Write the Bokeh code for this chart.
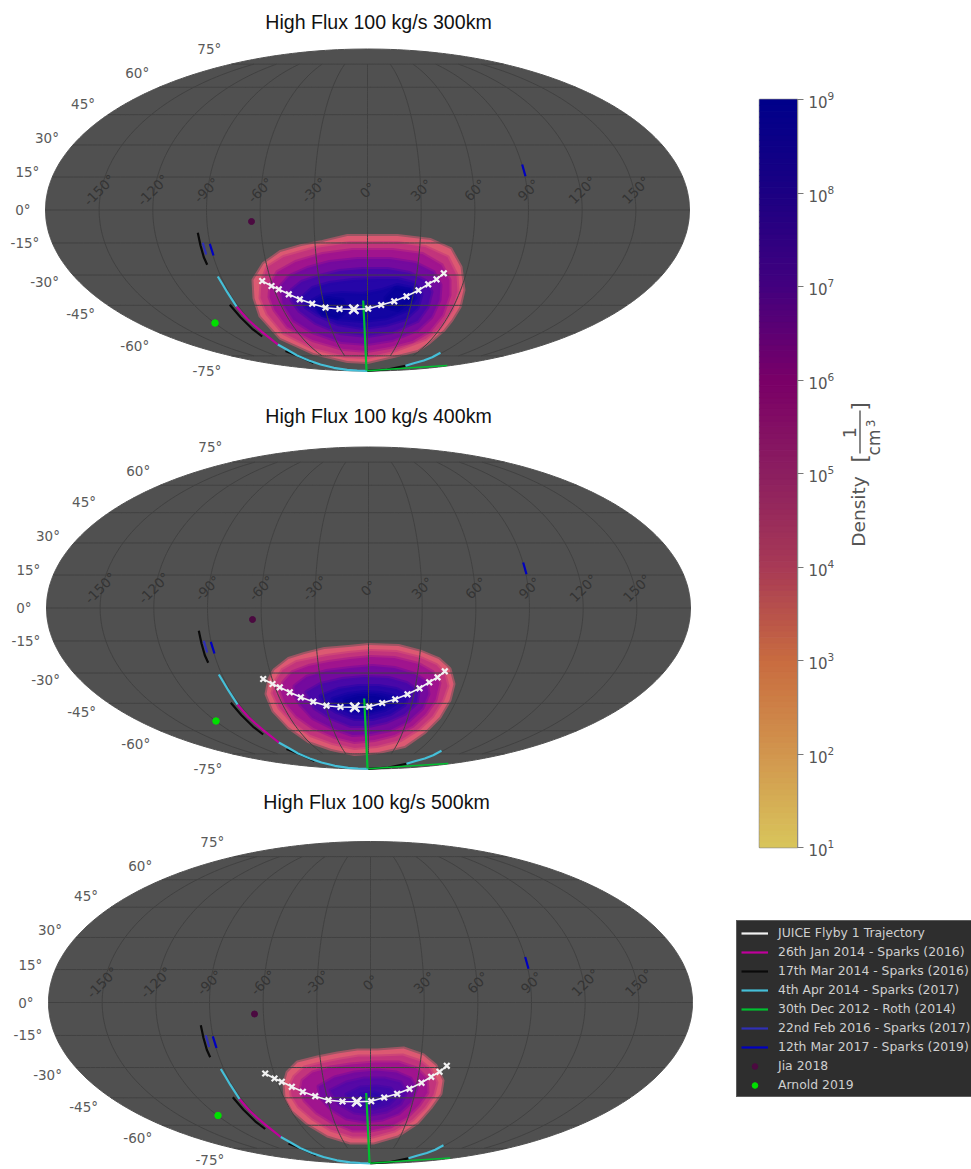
import numpy as np
from bokeh.core.properties import value
from bokeh.embed import file_html
from bokeh.layouts import column, row
from bokeh.models import FixedTicker, Label, Legend, LegendItem, LogTickFormatter, Range1d
from bokeh.plotting import figure
from bokeh.resources import INLINE

# ---------------------------------------------------------------- data
TITLES = ["High Flux 100 kg/s 300km", "High Flux 100 kg/s 400km", "High Flux 100 kg/s 500km"]
LON_TICKS = [-150, -120, -90, -60, -30, 0, 30, 60, 90, 120, 150]
LAT_TICKS = [75, 60, 45, 30, 15, 0, -15, -30, -45, -60, -75]

JUICE_X = [-105.3, -96, -88.7, -78.7, -67.7, -55.3, -42, -28, -13.7, 0.7, 13.7, 26.7, 39, 51, 60.7, 69, 76.3]
JUICE_Y = [-71, -76, -79.3, -84.3, -89.3, -93.7, -97.7, -99, -99.3, -98.7, -95, -91.3, -86.3, -80.3, -74.3, -69.3, -63.3]
CA_X = [-13.7]
CA_Y = [-99.3]

MAG_X = [-131, -125.3, -120.3, -113, -105.3, -97.7, -89.7]
MAG_Y = [-96.5, -103.2, -108.8, -115.5, -122.2, -128.2, -134.5]

BLK_A = ([-169.7, -167, -163.7, -160.3], [-22.8, -35.5, -47.2, -54.8])
BLK_B = ([-137.7, -127, -115.3, -105.3], [-94.8, -107.2, -118.8, -126.5])
BLK_C = ([-82, -67, -54], [-141, -147, -153])
BLK_D = ([-0.3, 19.7, 38], [-160.8, -159.5, -155.8])

CYN_A = ([-149.7, -145.3, -140.3, -135.3, -131], [-66.5, -73.8, -82.2, -89.8, -96.5])
CYN_B = ([-89.7, -80.3, -70.3, -58.7, -47, -33.7, -20.3, -10.3, -0.3],
         [-134.5, -139.8, -145.5, -150.5, -154.5, -157.8, -159.8, -160.5, -160.8])
CYN_C = ([38, 46.3, 56.3, 64.7, 73], [-155.8, -153.2, -150.5, -147.2, -142.8])

GRN_A = ([-4.3, -3, -1], [-90.5, -117, -160.5])
GRN_B = ([-0.3, 39.7, 79.7], [-160.8, -158, -155.5])

BLU_A = ([-164.7, -161.3], [-32.8, -44.5])
NAV_A = ([-157.7, -154], [-33.8, -45.5])
NAV_B = ([154.7, 158], [45.5, 33.8])

JIA = ([-116], [-11.5])
ARNOLD = ([-152.5], [-113])

# Density regions, outermost (lowest density) first, as (x, y) vertices.
P300 = [
    [(-45, -32), (-20, -26), (0, -26), (30, -26), (63, -30), (83, -39), (93, -57), (96, -80), (92, -97), (84, -110),
     (76, -120), (62, -132), (50, -140), (26, -146), (0, -152), (-20, -151), (-54, -143), (-87, -128), (-107, -106),
     (-113, -88), (-114, -70), (-104, -54), (-87, -42), (-66, -36)],
    [(-106, -72), (-100, -57), (-84, -47), (-52, -38), (-18, -33), (30, -33), (58, -37), (80, -47), (89, -65), (90, -82),
     (84, -100), (72, -118), (58, -129), (26, -141), (0, -147), (-22, -146), (-54, -138), (-84, -123), (-100, -104), (-107, -88)],
    [(-97, -74), (-90, -62), (-72, -52), (-45, -44), (-15, -40), (25, -40), (55, -44), (74, -55), (82, -70), (82, -85),
     (75, -105), (62, -121), (45, -131), (22, -137), (0, -141), (-24, -139), (-55, -130), (-80, -117), (-93, -100), (-98, -87)],
    [(-87, -76), (-78, -66), (-60, -58), (-38, -52), (-10, -49), (22, -49), (48, -53), (66, -62), (73, -75), (72, -90),
     (64, -107), (50, -120), (25, -130), (0, -134), (-26, -132), (-55, -122), (-74, -110), (-85, -93)],
    [(-76, -80), (-66, -72), (-48, -66), (-28, -61), (-5, -59), (20, -59), (42, -63), (58, -71), (64, -82), (60, -97),
     (50, -111), (25, -122), (0, -126), (-28, -123), (-52, -113), (-68, -101), (-76, -90)],
    [(-65, -87), (-55, -78), (-38, -73), (-15, -70), (10, -69), (30, -69), (46, -73), (54, -84), (50, -98), (38, -109),
     (18, -115), (-5, -118), (-30, -114), (-50, -105), (-62, -97)],
    [(-58, -92), (-45, -85), (-25, -83), (-5, -84), (15, -80), (30, -75), (44, -78), (48, -88), (40, -100), (20, -108),
     (-5, -111), (-30, -109), (-48, -102)],
    [(-52, -95), (-40, -88), (-25, -90), (-20, -100), (-30, -108), (-45, -105)],
    [(18, -88), (28, -78), (42, -80), (44, -90), (30, -100), (18, -97)],
]
P400 = [
    [(-94, -62), (-80, -51), (-64, -46), (-44, -41), (-20, -39), (0, -37), (30, -38), (53, -44), (70, -51), (81, -61),
     (85, -76), (81, -92), (71, -109), (56, -124), (36, -138), (10, -144), (-14, -146), (-37, -141), (-60, -133),
     (-80, -119), (-95, -103), (-102, -86), (-99, -71)],
    [(-92, -72), (-86, -62), (-72, -54), (-42, -48), (-20, -45), (2, -43), (28, -44), (52, -50), (68, -57), (76, -66),
     (79, -78), (74, -92), (64, -108), (50, -121), (32, -132), (8, -138), (-14, -140), (-36, -135), (-58, -127),
     (-76, -114), (-89, -100), (-96, -85)],
    [(-85, -74), (-76, -64), (-60, -58), (-40, -54), (-18, -51), (2, -49), (26, -50), (50, -56), (64, -64), (71, -75),
     (67, -92), (57, -106), (44, -118), (26, -127), (6, -132), (-14, -134), (-34, -129), (-55, -120), (-72, -108),
     (-84, -94), (-88, -83)],
    [(-74, -78), (-62, -69), (-42, -63), (-18, -60), (4, -58), (26, -60), (46, -66), (58, -74), (60, -86), (54, -100),
     (40, -113), (22, -122), (2, -126), (-16, -127), (-36, -120), (-56, -110), (-68, -97), (-74, -87)],
    [(-62, -84), (-48, -76), (-26, -71), (-4, -69), (20, -70), (38, -75), (50, -83), (48, -95), (36, -106), (18, -114),
     (0, -118), (-18, -118), (-38, -110), (-54, -100)],
    [(-48, -88), (-30, -81), (-10, -78), (10, -78), (28, -81), (40, -87), (36, -97), (22, -106), (4, -111), (-14, -111),
     (-32, -104), (-44, -96)],
    [(-36, -91), (-20, -86), (-4, -84), (12, -85), (26, -88), (28, -95), (16, -102), (0, -106), (-16, -105), (-30, -99)],
    [(-24, -92), (-10, -88), (6, -88), (18, -91), (14, -98), (2, -102), (-12, -102), (-22, -98)],
]
P500 = [
    [(-83, -70), (-73, -60), (-53, -55), (-33, -51), (-13, -48), (7, -48), (33, -46), (53, -53), (65, -63), (72, -78),
     (70, -91), (60, -105), (47, -120), (27, -133), (3, -140), (-20, -140), (-43, -133), (-63, -121), (-78, -108),
     (-85, -95), (-86, -81)],
    [(-76, -74), (-66, -65), (-50, -61), (-30, -57), (-12, -54), (8, -54), (32, -53), (50, -59), (60, -67), (66, -80),
     (63, -92), (54, -105), (42, -117), (24, -128), (2, -134), (-18, -134), (-40, -127), (-58, -116), (-72, -104),
     (-79, -93), (-80, -82)],
    [(-68, -78), (-58, -70), (-40, -65), (-20, -62), (5, -60), (28, -60), (46, -66), (56, -76), (57, -90), (48, -103),
     (36, -115), (20, -124), (0, -128), (-18, -128), (-38, -120), (-54, -110), (-66, -98), (-70, -88)],
    [(-52, -84), (-36, -75), (-16, -70), (6, -68), (26, -70), (40, -76), (46, -86), (40, -100), (28, -111), (12, -117),
     (-6, -119), (-24, -116), (-40, -106), (-50, -95)],
    [(-40, -88), (-24, -80), (-6, -76), (14, -76), (30, -80), (36, -90), (30, -101), (16, -109), (0, -112), (-16, -110),
     (-32, -101)],
    [(-24, -92), (-10, -85), (6, -84), (20, -86), (26, -94), (18, -102), (4, -106), (-10, -105), (-20, -99)],
    [(-10, -92), (4, -90), (14, -94), (8, -100), (-4, -101)],
]
BAND_COLORS = ["#dc5a72", "#c2347c", "#a0148e", "#740a9e", "#4808a8", "#2606a8", "#1204a2", "#08029a", "#08029a"]
P500_COLORS = ["#dc5a72", "#c2347c", "#a0148e", "#740a9e", "#5608a6", "#4008a8", "#3008a8"]

CBAR_DECADES = [1, 2, 3, 4, 5, 6, 7, 8, 9]
CBAR_COLORS = ["#d9c65c", "#d2964e", "#c96c40", "#a83a56", "#8c1f60", "#7a0068", "#43007f", "#1c0083", "#00008b"]

LEGEND_LABELS = ["JUICE Flyby 1 Trajectory", "26th Jan 2014 - Sparks (2016)", "17th Mar 2014 - Sparks (2016)",
                 "4th Apr 2014 - Sparks (2017)", "30th Dec 2012 - Roth (2014)", "22nd Feb 2016 - Sparks (2017)",
                 "12th Mar 2017 - Sparks (2019)", "Jia 2018", "Arnold 2019"]

# ---------------------------------------------------------------- styles
WHITE, MAGENTA, BLACK, CYAN, GREEN, BLUE, NAVY = "#f2f2f2", "#c0009c", "#0a0a0a", "#45bfd8", "#00c030", "#3030b4", "#0000c0"
JIA_C, ARNOLD_C = "#4b0a40", "#00e000"
DISC, GRID, TICK_IN, TICK_OUT = "#505050", "#414141", "#343434", "#5a5a5a"
A, B = 322.0, 161.0
LAT_DX = [-10, -10, -13, -14, -13, -15, -13, -14, -13, -10, -10]
LAT_DY = [15, 14, 11, 7, 5, 0, 0, -7, -9, -13, -15]


def solve_theta(lat_deg):
    phi = np.radians(np.asarray(lat_deg, dtype=float))
    th = phi.copy()
    for _ in range(60):
        d = 2 * th + np.sin(2 * th) - np.pi * np.sin(phi)
        th = th - d / (2 + 2 * np.cos(2 * th) + 1e-9)
    return th


def project(lon_deg, lat_deg):
    th = solve_theta(lat_deg)
    return A * np.asarray(lon_deg, dtype=float) / 180.0 * np.cos(th), B * np.sin(th)


def map_panel(title, bands, colors, x_left, y_top, height, title_x, title_y, bottom_label_dy=None):
    W = 715
    p = figure(width=W, height=height, output_backend="svg", toolbar_location=None,
               x_range=Range1d(x_left, x_left + W), y_range=Range1d(y_top - height, y_top),
               x_axis_location=None, y_axis_location=None, min_border=0, outline_line_color=None)
    p.grid.visible = False

    lats = np.linspace(-90, 90, 361)
    ex, ey = project(np.full_like(lats, 180.0), lats)
    p.patch(np.r_[ex, -ex[::-1]], np.r_[ey, ey[::-1]], fill_color=DISC, line_color=DISC, line_width=1)

    for band, col in zip(bands, colors):
        xs = [v[0] for v in band]
        ys = [v[1] for v in band]
        p.patch(xs, ys, fill_color=col, line_color=col, line_alpha=0.55, line_width=4, line_join="round")

    for lon in LON_TICKS:
        gl = np.linspace(-75, 75, 121)
        gx, gy = project(np.full_like(gl, float(lon)), gl)
        p.line(gx, gy, line_color=GRID, line_width=1)
    for lat in LAT_TICKS:
        gl = np.linspace(-180, 180, 121)
        gx, gy = project(gl, np.full_like(gl, float(lat)))
        p.line(gx, gy, line_color=GRID, line_width=1)

    lw = 2.2
    for tr in (BLK_A, BLK_B, BLK_C, BLK_D):
        p.line(tr[0], tr[1], line_color=BLACK, line_width=lw)
    p.line(MAG_X, MAG_Y, line_color=MAGENTA, line_width=lw)
    p.line(GRN_B[0], GRN_B[1], line_color=GREEN, line_width=1.6)
    for tr in (CYN_A, CYN_B, CYN_C):
        p.line(tr[0], tr[1], line_color=CYAN, line_width=lw)
    p.line(GRN_A[0], GRN_A[1], line_color=GREEN, line_width=lw)
    p.line(BLU_A[0], BLU_A[1], line_color=BLUE, line_width=lw)
    for tr in (NAV_A, NAV_B):
        p.line(tr[0], tr[1], line_color=NAVY, line_width=lw)

    p.scatter(JIA[0], JIA[1], size=6, color=JIA_C)
    p.scatter(ARNOLD[0], ARNOLD[1], size=6.5, color=ARNOLD_C)

    p.line(JUICE_X, JUICE_Y, line_color=WHITE, line_width=1.6)
    p.scatter(JUICE_X, JUICE_Y, marker="x", size=8, line_color=WHITE, line_width=2.2)
    p.scatter(CA_X, CA_Y, marker="x", size=13, line_color=WHITE, line_width=2.6)

    lx, _ = project(LON_TICKS, [0] * len(LON_TICKS))
    p.text(lx, [0] * len(LON_TICKS), text=[f"{v}°" for v in LON_TICKS], angle=45, angle_units="deg",
           text_align="center", text_baseline="middle", y_offset=-20,
           text_font=value("DejaVu Sans"), text_font_size="13.5px", text_color=TICK_IN)
    ax, ay = project([-180] * len(LAT_TICKS), LAT_TICKS)
    dy = list(LAT_DY)
    if bottom_label_dy is not None:
        dy[-1] = bottom_label_dy
    p.text(ax, ay, text=[f"{v}°" for v in LAT_TICKS], text_align="right", text_baseline="middle",
           x_offset=LAT_DX, y_offset=[-v for v in dy],
           text_font=value("DejaVu Sans"), text_font_size="13.5px", text_color=TICK_OUT)

    p.add_layout(Label(x=title_x, y=title_y, text=title, text_align="center", text_baseline="middle",
                       text_font="Liberation Sans", text_font_size="19.6px", text_color="#111111"))
    return p


# ---------------------------------------------------------------- maps
p1 = map_panel(TITLES[0], P300, BAND_COLORS, -367, 209.5, 400, 11, 188)
p2 = map_panel(TITLES[1], P400, BAND_COLORS, -368, 207.5, 390, 10, 192)
p3 = map_panel(TITLES[2], P500, P500_COLORS, -370, 212, 379, 6, 201, bottom_label_dy=-12)

# ---------------------------------------------------------------- colour bar
cb = figure(width=125, height=880, output_backend="svg", toolbar_location=None,
            y_axis_type="log", y_axis_location="right", x_axis_location=None,
            x_range=Range1d(0, 1), y_range=Range1d(10, 1e9),
            min_border_left=44, min_border_right=43, min_border_top=99, min_border_bottom=33,
            outline_line_color="#8a8a8a", outline_line_width=1.5)
cb.grid.visible = False
edges = np.linspace(CBAR_DECADES[0], CBAR_DECADES[-1], 129)
mids = 0.5 * (edges[:-1] + edges[1:])
rgb = np.array([[int(c[i:i + 2], 16) for i in (1, 3, 5)] for c in CBAR_COLORS], dtype=float)
strip = ["#%02x%02x%02x" % tuple(int(np.interp(m, CBAR_DECADES, rgb[:, k])) for k in range(3)) for m in mids]
cb.quad(left=0, right=1, bottom=10 ** edges[:-1], top=10 ** edges[1:], fill_color=strip,
        line_color=strip, line_width=1)
ax_r = cb.yaxis[0]
ax_r.ticker = FixedTicker(ticks=[10.0 ** d for d in CBAR_DECADES])
ax_r.formatter = LogTickFormatter()
ax_r.major_tick_out = 6
ax_r.major_tick_in = 0
ax_r.minor_tick_line_color = None
ax_r.axis_line_color = "#8a8a8a"
ax_r.major_tick_line_color = "#777777"
ax_r.major_label_text_color = "#555555"
ax_r.major_label_text_font = "DejaVu Sans"
ax_r.major_label_text_font_size = "15px"

# colour-bar caption, in its own strip whose frame lines up with the bar's frame
cap = figure(width=131, height=880, output_backend="svg", toolbar_location=None, x_range=Range1d(0, 131),
             y_range=Range1d(847, 99), x_axis_location=None, y_axis_location=None, min_border=0, outline_line_color=None)
cap.grid.visible = False
CAP_TEXT = ["Density", "[", "]", "1", "cm", "3"]
cap.text([18, 19, 19, 9, 33, 30], [511, 458, 406, 432, 442, 423], text=CAP_TEXT, angle=90, angle_units="deg",
         text_align="center", text_baseline="middle", text_font=value("DejaVu Sans"),
         text_font_size=["18.5px", "21px", "21px", "17px", "17px", "12px"], text_color="#555555")
cap.segment([19.5], [410], [19.5], [453], line_color="#555555", line_width=1.4)

# ---------------------------------------------------------------- legend
lg = figure(width=256, height=289, output_backend="svg", toolbar_location=None, x_range=Range1d(0, 1),
            y_range=Range1d(0, 1), x_axis_location=None, y_axis_location=None, min_border=0, outline_line_color=None)
lg.grid.visible = False
off = [-5, -4]
rs = [lg.line(off, off, line_color=c, line_width=2.2) for c in (WHITE, MAGENTA, BLACK, CYAN, GREEN, BLUE, NAVY)]
rs.append(lg.scatter([-5], [-5], size=6.5, color=JIA_C))
rs.append(lg.scatter([-5], [-5], size=6.5, color=ARNOLD_C))
legend = Legend(items=[LegendItem(label=t, renderers=[r]) for t, r in zip(LEGEND_LABELS, rs)],
                location=(21, 72), margin=0, padding=4, spacing=4, label_height=14, glyph_height=14, glyph_width=27,
                label_standoff=10, background_fill_color="#2e2e2e", background_fill_alpha=1,
                border_line_color="#8c8c8c", border_line_width=1, label_text_color="#cfcfcf",
                label_text_font="DejaVu Sans", label_text_font_size="12.4px")
lg.add_layout(legend, "center")

layout = row(column(p1, p2, p3), column(row(cb, cap), row(lg)))
open("out.html", "w").write(file_html(layout, INLINE))
